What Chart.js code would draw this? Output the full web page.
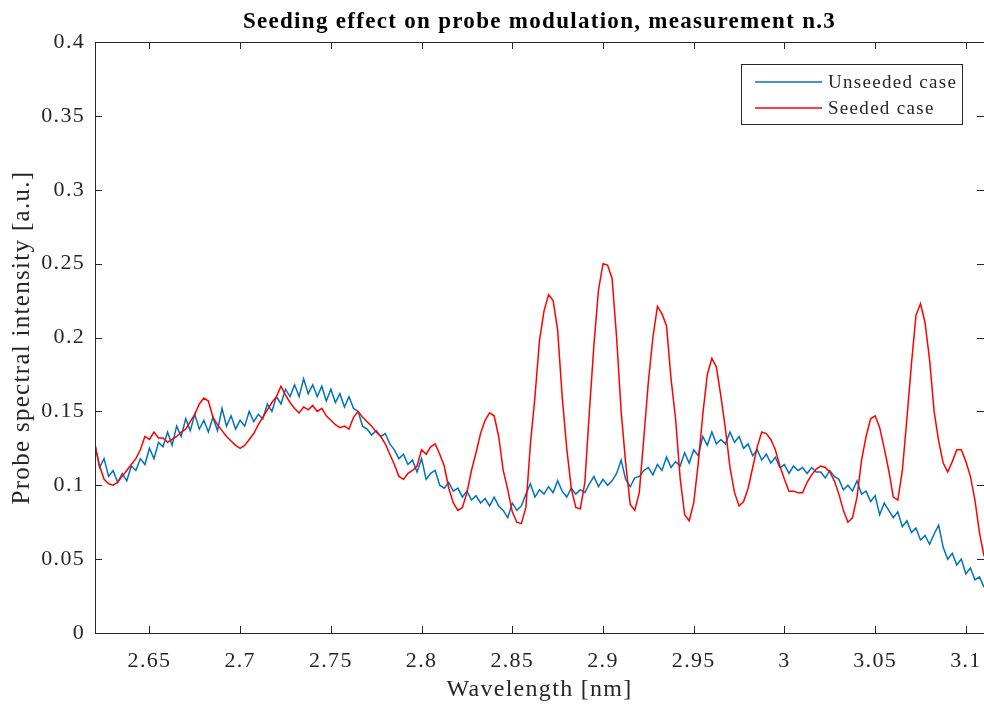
<!DOCTYPE html>
<html>
<head>
<meta charset="utf-8">
<script src="https://cdn.jsdelivr.net/npm/chart.js@4/dist/chart.umd.min.js"></script>
<style>
  html, body { margin: 0; padding: 0; background: #fff; overflow: hidden; }
  #wrap { width: 984px; height: 704px; }
</style>
</head>
<body>
<div id="wrap"><canvas id="chart"></canvas></div>
<script>
// wavelength grid: 2.62 nm .. 3.11 nm, one sample every 0.0025 nm
const startWl = 2.62;
const stepWl = 0.0025;

// probe spectral intensity, one value per grid sample
const unseeded = [
  0.128, 0.112, 0.118, 0.106, 0.110, 0.102, 0.108, 0.103, 0.113, 0.110,
  0.118, 0.114, 0.125, 0.118, 0.129, 0.126, 0.136, 0.127, 0.140, 0.133,
  0.145, 0.137, 0.148, 0.138, 0.144, 0.136, 0.146, 0.137, 0.152, 0.140,
  0.147, 0.138, 0.144, 0.140, 0.150, 0.143, 0.148, 0.145, 0.155, 0.150,
  0.160, 0.155, 0.165, 0.160, 0.168, 0.160, 0.172, 0.162, 0.168, 0.160,
  0.167, 0.157, 0.165, 0.156, 0.162, 0.153, 0.160, 0.152, 0.150, 0.140,
  0.138, 0.134, 0.137, 0.133, 0.135, 0.128, 0.124, 0.118, 0.121, 0.114,
  0.117, 0.109, 0.118, 0.104, 0.108, 0.110, 0.100, 0.098, 0.102, 0.096,
  0.098, 0.092, 0.096, 0.090, 0.093, 0.088, 0.091, 0.086, 0.092, 0.086,
  0.083, 0.078, 0.088, 0.083, 0.086, 0.094, 0.101, 0.092, 0.097, 0.094,
  0.099, 0.095, 0.103, 0.096, 0.092, 0.098, 0.094, 0.097, 0.095, 0.101,
  0.106, 0.099, 0.104, 0.100, 0.103, 0.108, 0.117, 0.104, 0.099, 0.105,
  0.106, 0.110, 0.112, 0.107, 0.114, 0.110, 0.119, 0.112, 0.116, 0.113,
  0.122, 0.115, 0.124, 0.120, 0.133, 0.127, 0.136, 0.128, 0.131, 0.128,
  0.136, 0.129, 0.133, 0.125, 0.128, 0.120, 0.124, 0.117, 0.121, 0.115,
  0.119, 0.112, 0.114, 0.108, 0.113, 0.110, 0.112, 0.108, 0.112, 0.109,
  0.109, 0.105, 0.110, 0.106, 0.104, 0.097, 0.100, 0.096, 0.103, 0.094,
  0.096, 0.089, 0.093, 0.080, 0.088, 0.083, 0.078, 0.082, 0.072, 0.076,
  0.068, 0.071, 0.063, 0.066, 0.060, 0.067, 0.073, 0.058, 0.050, 0.054,
  0.046, 0.050, 0.040, 0.044, 0.036, 0.038, 0.031
];

const seeded = [
  0.127, 0.113, 0.104, 0.101, 0.100, 0.102, 0.106, 0.110, 0.114, 0.118,
  0.124, 0.133, 0.131, 0.136, 0.132, 0.132, 0.129, 0.131, 0.133, 0.136,
  0.138, 0.143, 0.148, 0.155, 0.159, 0.157, 0.146, 0.141, 0.137, 0.133,
  0.130, 0.127, 0.125, 0.127, 0.131, 0.135, 0.141, 0.146, 0.151, 0.156,
  0.160, 0.167, 0.161, 0.156, 0.152, 0.149, 0.153, 0.151, 0.154, 0.150,
  0.152, 0.147, 0.144, 0.141, 0.139, 0.140, 0.138, 0.146, 0.150, 0.146,
  0.143, 0.140, 0.136, 0.133, 0.128, 0.121, 0.114, 0.106, 0.104, 0.108,
  0.110, 0.113, 0.124, 0.121, 0.126, 0.128, 0.121, 0.113, 0.098, 0.088,
  0.083, 0.085, 0.095, 0.110, 0.122, 0.135, 0.144, 0.149, 0.147, 0.133,
  0.110, 0.097, 0.082, 0.075, 0.074, 0.085, 0.128, 0.160, 0.198, 0.218,
  0.229, 0.225, 0.205, 0.160, 0.125, 0.098, 0.085, 0.084, 0.102, 0.150,
  0.195, 0.232, 0.250, 0.249, 0.240, 0.200, 0.150, 0.115, 0.087, 0.083,
  0.095, 0.132, 0.170, 0.200, 0.221, 0.216, 0.208, 0.172, 0.145, 0.105,
  0.080, 0.076, 0.088, 0.115, 0.148, 0.175, 0.186, 0.180, 0.160, 0.138,
  0.112, 0.095, 0.086, 0.089, 0.098, 0.112, 0.126, 0.136, 0.135, 0.131,
  0.124, 0.113, 0.104, 0.096, 0.096, 0.095, 0.095, 0.102, 0.107, 0.111,
  0.113, 0.112, 0.109, 0.103, 0.094, 0.083, 0.075, 0.078, 0.092, 0.117,
  0.133, 0.145, 0.147, 0.139, 0.125, 0.110, 0.092, 0.090, 0.110, 0.145,
  0.182, 0.215, 0.223, 0.210, 0.185, 0.150, 0.130, 0.115, 0.109, 0.116,
  0.124, 0.124, 0.116, 0.106, 0.090, 0.068, 0.052
];

const xTicks = [2.65, 2.7, 2.75, 2.8, 2.85, 2.9, 2.95, 3, 3.05, 3.1];
const yTicks = [0, 0.05, 0.1, 0.15, 0.2, 0.25, 0.3, 0.35, 0.4];

const wavelengths = seeded.map((_, i) => +(startWl + i * stepWl).toFixed(4));
const toPoints = vals => vals.map((v, i) => ({ x: wavelengths[i], y: v }));

const serif = '"Liberation Serif", "Times New Roman", serif';
const axisColor = '#262626';

// the matlab export uses a wider serif, loosen the letters a bit
const wideText = {
  id: 'wideText',
  beforeDraw(chart) { chart.ctx.letterSpacing = '1.3px'; }
};

// MATLAB-like box with inward ticks on all four sides
const boxAxes = {
  id: 'boxAxes',
  afterDatasetsDraw(chart) {
    const { ctx, chartArea: a, scales } = chart;
    const len = 7;
    ctx.save();
    ctx.strokeStyle = axisColor;
    ctx.lineWidth = 1;
    ctx.beginPath();
    scales.x.ticks.forEach(t => {
      const px = Math.round(scales.x.getPixelForValue(t.value)) + 0.5;
      ctx.moveTo(px, a.bottom); ctx.lineTo(px, a.bottom - len);
      ctx.moveTo(px, a.top); ctx.lineTo(px, a.top + len);
    });
    scales.y.ticks.forEach(t => {
      const py = Math.round(scales.y.getPixelForValue(t.value)) + 0.5;
      ctx.moveTo(a.left, py); ctx.lineTo(a.left + len, py);
      ctx.moveTo(a.right, py); ctx.lineTo(a.right - len, py);
    });
    ctx.stroke();
    ctx.strokeRect(Math.round(a.left) + 0.5, Math.round(a.top) + 0.5,
      Math.round(a.right - a.left), Math.round(a.bottom - a.top));
    ctx.restore();
  }
};

// boxed legend in the upper right corner of the plot area
const boxLegend = {
  id: 'boxLegend',
  afterDraw(chart) {
    const { ctx, chartArea: a } = chart;
    const w = 221, h = 60;
    const x0 = a.right - 22 - w, y0 = a.top + 22;
    ctx.save();
    ctx.fillStyle = '#fff';
    ctx.fillRect(x0, y0, w, h);
    ctx.strokeStyle = axisColor;
    ctx.lineWidth = 1;
    ctx.strokeRect(Math.round(x0) + 0.5, Math.round(y0) + 0.5, w, h);
    ctx.font = '19px ' + serif;
    ctx.textBaseline = 'middle';
    chart.data.datasets.forEach((ds, i) => {
      const cy = y0 + 18 + i * 26;
      ctx.strokeStyle = ds.borderColor;
      ctx.lineWidth = 1.5;
      ctx.beginPath();
      ctx.moveTo(x0 + 14, cy); ctx.lineTo(x0 + 81, cy);
      ctx.stroke();
      ctx.fillStyle = axisColor;
      ctx.fillText(ds.label, x0 + 87, cy + 1);
    });
    ctx.restore();
  }
};

new Chart(document.getElementById('chart'), {
  type: 'line',
  data: {
    datasets: [
      { label: 'Unseeded case', data: toPoints(unseeded), borderColor: '#0072BD', order: 2 },
      { label: 'Seeded case', data: toPoints(seeded), borderColor: '#FF0000', order: 1 }
    ]
  },
  options: {
    responsive: true,
    maintainAspectRatio: false,
    animation: false,
    layout: { padding: 0 },
    elements: {
      point: { radius: 0 },
      line: { borderWidth: 1.5, tension: 0 }
    },
    plugins: {
      legend: { display: false },
      tooltip: { enabled: false },
      title: {
        display: true,
        fullSize: false,
        text: 'Seeding effect on probe modulation, measurement n.3',
        color: '#000',
        font: { family: serif, size: 23, weight: 'bold' },
        padding: { top: 8, bottom: 6.4 }
      }
    },
    scales: {
      x: {
        type: 'linear',
        min: 2.62,
        max: 3.11,
        afterBuildTicks: s => { s.ticks = xTicks.map(v => ({ value: v })); },
        afterFit: s => { s.height = 71; s.paddingLeft = 0; s.paddingRight = 0; },
        grid: { display: false, drawTicks: false },
        border: { display: false },
        ticks: {
          color: axisColor,
          padding: 15,
          maxRotation: 0,
          autoSkip: false,
          font: { family: serif, size: 22 },
          callback: v => String(v)
        },
        title: {
          display: true,
          text: 'Wavelength [nm]',
          color: axisColor,
          font: { family: serif, size: 24 },
          padding: { top: 0, bottom: 0 }
        }
      },
      y: {
        min: 0,
        max: 0.4,
        afterBuildTicks: s => { s.ticks = yTicks.map(v => ({ value: v })); },
        afterFit: s => { s.width = 95; },
        grid: { display: false, drawTicks: false },
        border: { display: false },
        ticks: {
          color: axisColor,
          padding: 10,
          autoSkip: false,
          font: { family: serif, size: 22 },
          callback: v => String(v)
        },
        title: {
          display: true,
          text: 'Probe spectral intensity [a.u.]',
          color: axisColor,
          font: { family: serif, size: 25 },
          padding: { top: 7, bottom: 0 }
        }
      }
    }
  },
  plugins: [wideText, boxAxes, boxLegend]
});
</script>
</body>
</html>
